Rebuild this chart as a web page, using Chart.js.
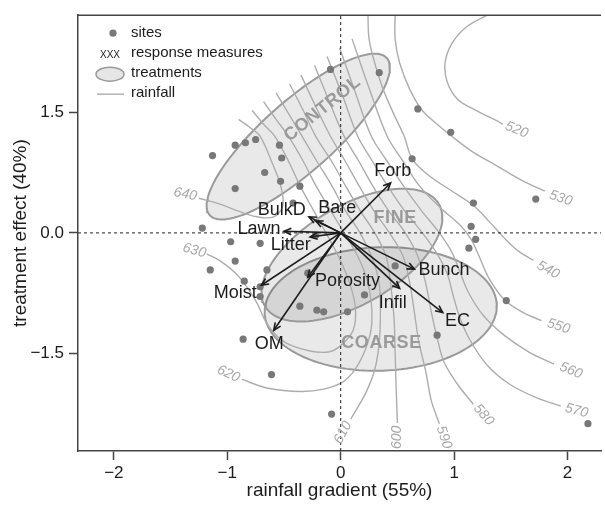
<!DOCTYPE html>
<html>
<head>
<meta charset="utf-8">
<script src="https://cdn.jsdelivr.net/npm/chart.js@4.4.1/dist/chart.umd.min.js"></script>
<style>
html,body{margin:0;padding:0;background:#fff;overflow:hidden;}
#wrap{position:relative;width:605px;height:510px;}
</style>
</head>
<body>
<div id="wrap"><canvas id="chart"></canvas></div>
<script>
// ---------------- data ----------------
const xTicks = [-2, -1, 0, 1, 2];
const yTicks = [-1.5, 0, 1.5];
const xLimits = [-2.316, 2.295];
const yLimits = [-2.709, 2.704];

// sites (ordination scores)
const sites = [
  [-1.13,0.96],[-0.93,1.09],[-0.84,1.12],[-0.75,1.16],[-0.54,1.09],[-0.52,0.93],
  [-0.67,0.75],[-0.53,0.64],[-0.93,0.55],[-0.36,0.58],[-0.09,2.03],[0.34,1.99],
  [0.68,1.54],[0.97,1.25],[0.63,0.92],[1.17,0.37],[1.72,0.42],[1.15,0.08],
  [1.19,-0.08],[1.13,-0.19],[-1.22,0.06],[-0.97,-0.11],[-0.71,-0.13],[-0.22,-0.03],
  [-0.42,0.37],[-0.93,-0.35],[-1.15,-0.46],[-0.65,-0.46],[-0.85,-0.60],[-0.71,-0.67],
  [-0.71,-0.79],[-0.29,-0.50],[-0.36,-0.91],[-0.21,-0.96],[-0.15,-0.98],[0.06,-0.98],
  [0.21,-0.77],[0.48,-0.41],[0.85,-1.27],[1.46,-0.84],[-0.86,-1.32],[-0.61,-1.76],
  [-0.08,-2.25],[2.18,-2.37]
];

// response measures (arrow tips) and their label anchors
const measureNames = ['Forb','Bare','BulkD','Lawn','Litter','Moist','OM','Porosity','Bunch','Infil','EC'];
const measureTips = [[0.44,0.62],[-0.22,0.15],[-0.28,0.20],[-0.50,0.02],[-0.27,-0.05],[-0.70,-0.65],
                     [-0.59,-1.21],[-0.29,-0.55],[0.65,-0.45],[0.52,-0.69],[0.90,-0.99]];
const measureLabelAt = [[0.46,0.77],[-0.03,0.31],[-0.52,0.28],[-0.72,0.05],[-0.44,-0.15],[-0.93,-0.75],
                        [-0.63,-1.38],[0.06,-0.60],[0.91,-0.46],[0.46,-0.87],[1.03,-1.09]];

// treatments (ellipses: centre, major and minor semi-axis vectors)
const treatmentNames = ['CONTROL','FINE','COARSE'];
const ellipseCenters = [[-0.374,1.196],[0.099,-0.276],[0.353,-0.945]];
const ellipseMajor   = [[0.780,0.977],[0.765,0.639],[1.023,0.050]];
const ellipseMinor   = [[0.211,-0.325],[0.225,-0.521],[0.019,-0.766]];
const treatmentLabelAt = [[-0.16,1.54],[0.48,0.18],[0.36,-1.37]];
const treatmentLabelAngle = [-39, 0, 0];

// rainfall contours
const contourLevels = [520,530,540,550,560,570,580,590,600,610,620,630,640];
const contour520 = [[1.31,2.72],[1.11,2.56],[0.98,2.35],[0.92,2.11],[0.94,1.87],[1.03,1.66],[1.18,1.53],[1.38,1.39],[1.43,1.35]];
const contour530 = [[0.48,2.72],[0.48,2.41],[0.52,2.11],[0.61,1.78],[0.72,1.52],[0.85,1.35],[0.98,1.20],[1.16,1.01],[1.38,0.83],[1.60,0.65],[1.80,0.52]];
const contour540 = [[0.24,2.72],[0.25,2.41],[0.30,2.11],[0.37,1.80],[0.46,1.50],[0.56,1.20],[0.63,0.92],[0.78,0.71],[0.98,0.52],[1.17,0.34],[1.31,0.14],[1.44,-0.06],[1.57,-0.23],[1.70,-0.34]];
const contour550 = [[0.10,2.41],[0.25,1.80],[0.41,1.20],[0.55,0.89],[0.69,0.59],[0.88,0.31],[1.05,0.10],[1.15,-0.08],[1.22,-0.29],[1.31,-0.57],[1.45,-0.84],[1.61,-0.99],[1.77,-1.09]];
const contour560 = [[-0.01,2.30],[0.13,1.74],[0.27,1.20],[0.41,0.89],[0.55,0.59],[0.71,0.28],[0.87,0.00],[0.98,-0.24],[1.05,-0.48],[1.13,-0.75],[1.26,-1.03],[1.44,-1.27],[1.66,-1.48],[1.88,-1.63]];
const contour570 = [[-0.12,2.19],[0.02,1.69],[0.15,1.20],[0.28,0.89],[0.41,0.59],[0.56,0.28],[0.72,0.00],[0.85,-0.26],[0.94,-0.51],[0.99,-0.77],[1.05,-1.05],[1.14,-1.33],[1.29,-1.64],[1.49,-1.88],[1.73,-2.05],[1.94,-2.15]];
const contour580 = [[-0.23,2.08],[-0.10,1.63],[0.03,1.20],[0.16,0.89],[0.28,0.59],[0.42,0.28],[0.57,0.00],[0.68,-0.29],[0.75,-0.63],[0.80,-0.99],[0.85,-1.30],[0.91,-1.60],[1.03,-1.88],[1.17,-2.13]];
const contour590 = [[-0.35,1.96],[-0.22,1.57],[-0.09,1.20],[0.04,0.89],[0.16,0.59],[0.29,0.28],[0.43,0.00],[0.55,-0.29],[0.61,-0.63],[0.65,-0.99],[0.69,-1.36],[0.75,-1.72],[0.80,-2.09],[0.87,-2.37]];
const contour600 = [[-0.45,1.85],[-0.33,1.52],[-0.22,1.20],[-0.08,0.89],[0.04,0.59],[0.17,0.28],[0.30,0.00],[0.40,-0.29],[0.44,-0.63],[0.47,-1.05],[0.48,-1.48],[0.49,-1.97],[0.50,-2.36]];
const contour610 = [[-0.57,1.74],[-0.45,1.46],[-0.34,1.20],[-0.21,0.89],[-0.08,0.59],[0.04,0.28],[0.17,0.00],[0.28,-0.32],[0.34,-0.63],[0.35,-0.99],[0.34,-1.36],[0.30,-1.70],[0.22,-1.99],[0.09,-2.31]];
const contour620 = [[-0.68,1.63],[-0.57,1.41],[-0.46,1.20],[-0.33,0.89],[-0.22,0.59],[-0.09,0.28],[0.03,0.00],[0.15,-0.29],[0.23,-0.57],[0.27,-0.87],[0.27,-1.18],[0.22,-1.44],[0.13,-1.69],[0.02,-1.85],[-0.15,-1.94],[-0.35,-1.97],[-0.64,-1.93],[-0.87,-1.82]];
const contour630 = [[-0.78,1.52],[-0.68,1.35],[-0.58,1.20],[-0.46,0.89],[-0.36,0.59],[-0.24,0.28],[-0.13,0.00],[-0.01,-0.32],[0.08,-0.63],[0.13,-0.93],[0.11,-1.21],[0.00,-1.40],[-0.11,-1.48],[-0.29,-1.46],[-0.49,-1.36],[-0.64,-1.15],[-0.75,-0.84],[-0.90,-0.54],[-1.05,-0.36],[-1.18,-0.26]];
const contour640 = [[-0.90,1.41],[-0.80,1.31],[-0.71,1.20],[-0.61,0.89],[-0.53,0.59],[-0.51,0.34],[-0.59,0.20],[-0.74,0.20],[-0.90,0.27],[-1.07,0.36],[-1.25,0.43]];
const contourLines = [contour520,contour530,contour540,contour550,contour560,contour570,contour580,
                      contour590,contour600,contour610,contour620,contour630,contour640];
const contourLabelAt = [[1.55,1.28],[1.94,0.43],[1.83,-0.46],[1.92,-1.16],[2.03,-1.71],[2.08,-2.21],
                        [1.26,-2.26],[0.91,-2.54],[0.50,-2.54],[0.02,-2.48],[-0.99,-1.75],[-1.29,-0.22],[-1.37,0.48]];
const contourLabelAngle = [22,18,28,18,22,15,50,72,-90,-62,25,15,12];

// ---------------- chart ----------------
const FONT = "'Liberation Sans', Arial, Helvetica, sans-serif";
const toXY = a => ({x: a[0], y: a[1]});
const datasets = [];

treatmentNames.forEach((name, i) => {
  const c = ellipseCenters[i], M = ellipseMajor[i], m = ellipseMinor[i];
  const pts = [];
  for (let k = 0; k <= 120; k++) {
    const t = 2 * Math.PI * k / 120;
    pts.push({x: c[0] + M[0]*Math.cos(t) + m[0]*Math.sin(t),
              y: c[1] + M[1]*Math.cos(t) + m[1]*Math.sin(t)});
  }
  datasets.push({type:'line', label:name, data:pts, order:50, borderColor:'#9a9a9a', borderWidth:2,
    backgroundColor:'rgba(0,0,0,0.085)', fill:'shape', pointRadius:0, tension:0});
});

contourLines.forEach((line, i) => {
  datasets.push({type:'line', label:'rainfall ' + contourLevels[i], data:line.map(toXY), order:40,
    borderColor:'#adadad', borderWidth:1.4, fill:false, pointRadius:0, tension:0.35});
});

datasets.push({type:'line', label:'zero x', data:[{x:xLimits[0],y:0},{x:xLimits[1],y:0}], order:30,
  borderColor:'#222', borderWidth:1, borderDash:[3,3], pointRadius:0, fill:false});
datasets.push({type:'line', label:'zero y', data:[{x:0,y:yLimits[0]},{x:0,y:yLimits[1]}], order:30,
  borderColor:'#222', borderWidth:1, borderDash:[3,3], pointRadius:0, fill:false});

datasets.push({type:'scatter', label:'sites', data:sites.map(toXY), order:20,
  pointRadius:3.6, pointBackgroundColor:'#787878', pointBorderWidth:0});

const arrowStart = datasets.length;
measureNames.forEach((n, i) => {
  datasets.push({type:'line', label:n, data:[{x:0,y:0}, toXY(measureTips[i])], order:10,
    borderColor:'#1c1c1c', borderWidth:1.6, pointRadius:0, fill:false, tension:0});
});

const overlay = {
  id: 'overlay',
  afterDatasetsDraw(chart) {
    const {ctx, scales:{x, y}} = chart;
    ctx.save();
    // contour labels
    ctx.font = 'italic 14px ' + FONT;
    ctx.fillStyle = '#a8a8a8';
    ctx.textAlign = 'center';
    ctx.textBaseline = 'middle';
    contourLevels.forEach((lv, i) => {
      const p = contourLabelAt[i];
      ctx.save();
      ctx.translate(x.getPixelForValue(p[0]), y.getPixelForValue(p[1]));
      ctx.rotate(contourLabelAngle[i] * Math.PI / 180);
      ctx.fillText(String(lv), 0, 0);
      ctx.restore();
    });
    // treatment labels
    ctx.font = 'bold 18px ' + FONT;
    ctx.fillStyle = '#9a9a9a';
    try { ctx.letterSpacing = '0.6px'; } catch(e) {}
    treatmentNames.forEach((n, i) => {
      const p = treatmentLabelAt[i];
      ctx.save();
      ctx.translate(x.getPixelForValue(p[0]), y.getPixelForValue(p[1]));
      ctx.rotate(treatmentLabelAngle[i] * Math.PI / 180);
      ctx.fillText(n, 0, 0);
      ctx.restore();
    });
    try { ctx.letterSpacing = '0px'; } catch(e) {}
    // arrow heads
    ctx.strokeStyle = '#1c1c1c';
    ctx.lineWidth = 1.6;
    measureNames.forEach((n, i) => {
      const meta = chart.getDatasetMeta(arrowStart + i);
      const a = meta.data[0], b = meta.data[1];
      const ang = Math.atan2(b.y - a.y, b.x - a.x);
      const L = 8, w = 0.42;
      ctx.beginPath();
      ctx.moveTo(b.x - L*Math.cos(ang - w), b.y - L*Math.sin(ang - w));
      ctx.lineTo(b.x, b.y);
      ctx.lineTo(b.x - L*Math.cos(ang + w), b.y - L*Math.sin(ang + w));
      ctx.stroke();
    });
    // measure labels
    ctx.font = '18px ' + FONT;
    ctx.fillStyle = '#1c1c1c';
    measureNames.forEach((n, i) => {
      const p = measureLabelAt[i];
      ctx.fillText(n, x.getPixelForValue(p[0]), y.getPixelForValue(p[1]));
    });
    ctx.restore();
  },
  afterDraw(chart) {
    const {ctx, chartArea:ca} = chart;
    ctx.save();
    // top frame line
    ctx.strokeStyle = '#444';
    ctx.lineWidth = 1.5;
    ctx.beginPath();
    ctx.moveTo(ca.left, ca.top);
    ctx.lineTo(ca.right, ca.top);
    ctx.stroke();
    // legend
    const lx = ca.left, ly = ca.top;
    ctx.fillStyle = '#787878';
    ctx.beginPath(); ctx.arc(lx + 35, ly + 18, 3.6, 0, 2*Math.PI); ctx.fill();
    ctx.fillStyle = '#1c1c1c';
    ctx.textAlign = 'center'; ctx.textBaseline = 'middle';
    ctx.font = '10px ' + FONT;
    ctx.fillText('XXX', lx + 32, ly + 40);
    ctx.fillStyle = '#e6e6e6';
    ctx.strokeStyle = '#9a9a9a';
    ctx.lineWidth = 1.5;
    ctx.beginPath(); ctx.ellipse(lx + 32, ly + 59, 14, 7, 0, 0, 2*Math.PI); ctx.fill(); ctx.stroke();
    ctx.strokeStyle = '#adadad';
    ctx.lineWidth = 1.4;
    ctx.beginPath(); ctx.moveTo(lx + 19, ly + 79); ctx.lineTo(lx + 46, ly + 79); ctx.stroke();
    ctx.fillStyle = '#1c1c1c';
    ctx.textAlign = 'left';
    ctx.font = '15px ' + FONT;
    ctx.fillText('sites', lx + 53, ly + 18);
    ctx.fillText('response measures', lx + 53, ly + 38);
    ctx.fillText('treatments', lx + 53, ly + 58);
    ctx.fillText('rainfall', lx + 53, ly + 78);
    ctx.restore();
  }
};

const minus = v => (v < 0 ? '\u2212' : '');
new Chart(document.getElementById('chart'), {
  type: 'scatter',
  data: { datasets },
  plugins: [overlay],
  options: {
    responsive: true,
    maintainAspectRatio: false,
    animation: false,
    devicePixelRatio: 1,
    events: [],
    layout: { padding: { left: 0, right: 0, top: 6, bottom: 0 } },
    plugins: { legend: { display: false }, tooltip: { enabled: false } },
    scales: {
      x: {
        type: 'linear', min: xLimits[0], max: xLimits[1],
        afterBuildTicks: s => { s.ticks = xTicks.map(v => ({value: v})); },
        afterFit: s => { s.height = 59; },
        ticks: { callback: v => minus(v) + Math.abs(v), font: {family: FONT, size: 17}, color: '#1c1c1c',
                 padding: 3, maxRotation: 0, autoSkip: false },
        grid: { display: true, drawOnChartArea: false, drawTicks: true, tickLength: 9,
                tickColor: '#444', tickWidth: 1.5 },
        border: { display: true, color: '#444', width: 1.5 },
        title: { display: true, text: 'rainfall gradient (55%)', color: '#1c1c1c',
                 font: {family: FONT, size: 19}, padding: {top: 0, bottom: 8} }
      },
      y: {
        type: 'linear', min: yLimits[0], max: yLimits[1],
        afterBuildTicks: s => { s.ticks = yTicks.map(v => ({value: v})); },
        afterFit: s => { s.width = 78; },
        ticks: { callback: v => minus(v) + Math.abs(v).toFixed(1), font: {family: FONT, size: 17}, color: '#1c1c1c',
                 padding: 5, autoSkip: false },
        grid: { display: true, drawOnChartArea: false, drawTicks: true, tickLength: 9,
                tickColor: '#444', tickWidth: 1.5 },
        border: { display: true, color: '#444', width: 1.5 },
        title: { display: true, text: 'treatment effect (40%)', color: '#1c1c1c',
                 font: {family: FONT, size: 19}, padding: {top: 9, bottom: 0} }
      }
    }
  }
});
</script>
</body>
</html>
